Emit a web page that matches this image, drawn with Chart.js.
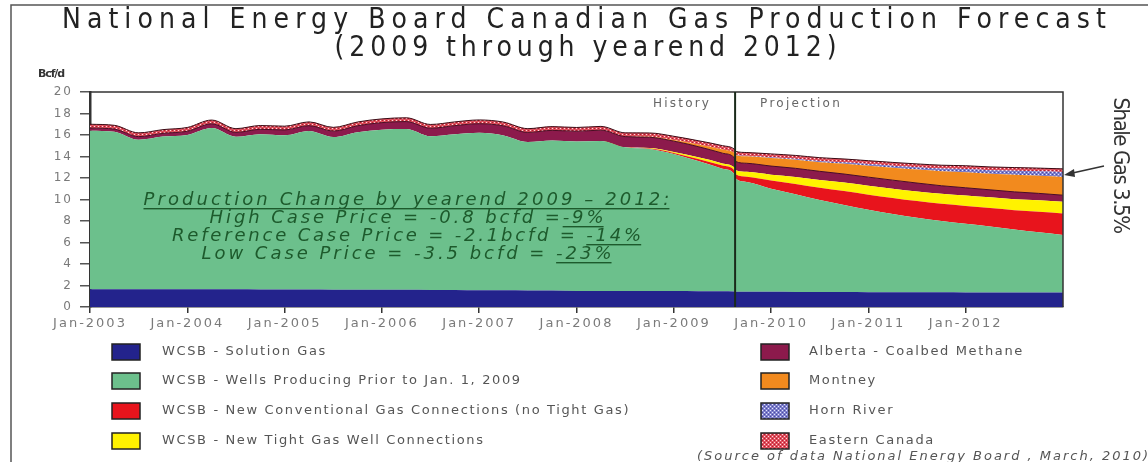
<!DOCTYPE html>
<html><head><meta charset="utf-8">
<script src="https://cdn.jsdelivr.net/npm/chart.js@4"></script>
<style>html,body{margin:0;padding:0;background:#fff;}canvas{display:block;}</style>
</head><body>
<canvas id="c" width="1148" height="462"></canvas>
<script>
// ---------- DATA (Bcf/d) ----------
const years = [2003,2003.25,2003.5,2003.75,2004,2004.25,2004.5,2004.75,2005,2005.25,2005.5,2005.75,
  2006,2006.25,2006.5,2006.75,2007,2007.25,2007.5,2007.75,2008,2008.25,2008.5,2008.75,
  2009,2009.25,2009.5,2009.62,2009.64,2009.75,2010,2010.25,2010.5,2010.75,2011,2011.25,2011.5,2011.75,
  2012,2012.25,2012.5,2012.75,2013];
const solutionGas = [1.65,1.65,1.65,1.65,1.65,1.64,1.64,1.63,1.62,1.62,1.61,1.61,
  1.60,1.60,1.58,1.57,1.55,1.55,1.54,1.53,1.50,1.50,1.50,1.49,
  1.48,1.47,1.46,1.45,1.42,1.42,1.41,1.40,1.40,1.39,1.38,1.38,1.37,1.37,
  1.36,1.36,1.35,1.35,1.35];
const wellsPrior2009 = [14.75,14.65,13.9,14.2,14.35,15.0,14.2,14.45,14.35,14.75,14.2,14.65,
  14.9,14.95,14.3,14.5,14.65,14.4,13.8,13.95,13.9,13.95,13.35,13.2,
  12.75,12.1,11.4,10.95,10.5,10.2,9.6,9.1,8.55,8.1,7.67,7.27,6.93,6.63,
  6.39,6.14,5.85,5.6,5.35];
const newConventional = [0,0,0,0,0,0,0,0,0,0,0,0,
  0,0,0,0,0,0,0,0,0,0,0,0.05,
  0.1,0.2,0.3,0.35,0.4,0.5,0.75,0.95,1.15,1.3,1.4,1.5,1.55,1.6,
  1.65,1.7,1.8,1.9,2.0];
const tightGas = [0,0,0,0,0,0,0,0,0,0,0,0,
  0,0,0,0,0,0,0,0,0,0,0,0.05,
  0.1,0.15,0.2,0.25,0.4,0.45,0.55,0.65,0.72,0.78,0.83,0.85,0.9,0.93,
  0.97,1.0,1.03,1.07,1.1];
const albertaCBM = [0.25,0.25,0.3,0.3,0.35,0.4,0.4,0.45,0.5,0.5,0.55,0.6,
  0.65,0.7,0.75,0.8,0.85,0.9,0.9,0.95,0.95,1.0,1.0,1.0,
  1.0,1.0,0.95,0.9,0.8,0.8,0.8,0.8,0.8,0.8,0.8,0.8,0.78,0.75,
  0.72,0.7,0.68,0.65,0.6];
const montney = [0,0,0,0,0,0,0,0,0,0,0,0,
  0,0,0,0,0,0,0,0,0,0,0,0.05,
  0.1,0.2,0.35,0.45,0.6,0.65,0.75,0.8,0.85,0.95,1.05,1.15,1.25,1.35,
  1.45,1.5,1.6,1.65,1.7];
const hornRiver = [0,0,0,0,0,0,0,0,0,0,0,0,
  0,0,0,0,0,0,0,0,0,0,0,0,
  0,0,0,0,0.05,0.05,0.08,0.1,0.12,0.15,0.18,0.2,0.23,0.26,
  0.3,0.33,0.36,0.4,0.45];
const easternCanada = [0.35,0.35,0.35,0.35,0.35,0.35,0.35,0.35,0.35,0.35,0.35,0.35,
  0.35,0.35,0.35,0.35,0.35,0.35,0.35,0.35,0.35,0.35,0.35,0.35,
  0.35,0.35,0.35,0.35,0.3,0.3,0.3,0.3,0.3,0.3,0.3,0.3,0.3,0.3,
  0.3,0.3,0.3,0.3,0.3];
const seriesNames = ['WCSB - Solution Gas','WCSB - Wells Producing Prior to Jan. 1, 2009',
  'WCSB - New Conventional Gas Connections (no Tight Gas)','WCSB - New Tight Gas Well Connections',
  'Alberta - Coalbed Methane','Montney','Horn River','Eastern Canada'];
const xTickYears = [2003,2004,2005,2006,2007,2008,2009,2010,2011,2012];
const yTicks = [0,2,4,6,8,10,12,14,16,18,20];
const titleLines = ['National Energy Board Canadian Gas Production Forecast','(2009 through yearend 2012)'];
const noteLines = [
  [['Production Change by yearend 2009 \u2013 2012:', true]],
  [['High Case Price = -0.8 bcfd =', false], ['-9%', true]],
  [['Reference Case Price = -2.1bcfd = ', false], ['-14%', true]],
  [['Low Case Price = -3.5 bcfd = ', false], ['-23%', true]]
];
const dividerYear = 2009.63;
const periodLabels = ['History', 'Projection'];
const shaleLabel = 'Shale Gas 3.5%';
const sourceText = '(Source of data National Energy Board , March, 2010)';
const yUnit = 'Bcf/d';

// ---------- STYLE ----------
const canvas = document.getElementById('c');
const ctx0 = canvas.getContext('2d');
function makePattern(bg, dot, dot2) {
  const c = document.createElement('canvas'); c.width = 4; c.height = 4;
  const g = c.getContext('2d');
  g.fillStyle = bg; g.fillRect(0,0,4,4);
  g.fillStyle = dot; g.fillRect(0,0,1,1); g.fillRect(2,2,1,1);
  g.fillStyle = dot2; g.fillRect(2,0,1,1); g.fillRect(0,2,1,1);
  return ctx0.createPattern(c, 'repeat');
}
const hornPat = makePattern('#7e80cc', '#e6e6ff', '#4a4aa0');
const eastPat = makePattern('#e0505e', '#ffd8dc', '#b02030');
const fills = ['#23238c', '#6cc08c', '#e8141c', '#fff200', '#8c1a4c', '#f28a1e', hornPat, eastPat];
const seriesData = [solutionGas, wellsPrior2009, newConventional, tightGas, albertaCBM, montney, hornRiver, easternCanada];
const borders = [null, null, null, null, '#4a0c22', null, null, '#3a0a14'];

const datasets = seriesData.map((arr, i) => ({
  label: seriesNames[i],
  data: arr.map((v, k) => ({x: years[k], y: v})),
  backgroundColor: fills[i],
  borderColor: borders[i] || 'rgba(0,0,0,0)',
  borderWidth: borders[i] ? 1 : 0,
  fill: i === 0 ? 'origin' : '-1',
  pointRadius: 0,
  cubicInterpolationMode: 'monotone'
}));

function spacedText(ctx, segs, x, y, targetW, align) {
  const text = segs.map(s => s[0]).join('');
  ctx.letterSpacing = '0px';
  const w0 = ctx.measureText(text).width;
  const ls = (targetW - w0) / text.length;
  ctx.letterSpacing = ls + 'px';
  let cx = align === 'center' ? x - targetW / 2 : x;
  ctx.textAlign = 'left';
  for (const [t, u] of segs) {
    const w = ctx.measureText(t).width;
    ctx.fillText(t, cx, y);
    if (u) ctx.fillRect(cx, y + 3, w - ls, 1.4);
    cx += w;
  }
  ctx.letterSpacing = '0px';
}

const decor = {
  id: 'decor',
  beforeDraw(chart) {
    const ctx = chart.ctx;
    ctx.save();
    ctx.fillStyle = '#fff'; ctx.fillRect(0, 0, chart.width, chart.height);
    ctx.restore();
    ctx.letterSpacing = '2px';
  },
  beforeDatasetsDraw(chart) { chart.ctx.letterSpacing = '0px'; },
  afterDatasetsDraw(chart) {
    const ctx = chart.ctx, a = chart.chartArea, xs = chart.scales.x;
    ctx.save();
    ctx.strokeStyle = '#333'; ctx.lineWidth = 1.5;
    ctx.beginPath(); ctx.moveTo(a.left, a.top); ctx.lineTo(a.right, a.top); ctx.lineTo(a.right, a.bottom); ctx.stroke();
    const dx = xs.getPixelForValue(dividerYear);
    ctx.strokeStyle = '#1a2a1a'; ctx.lineWidth = 2;
    ctx.beginPath(); ctx.moveTo(dx, a.top); ctx.lineTo(dx, a.bottom); ctx.stroke();
    ctx.fillStyle = '#666'; ctx.font = '12px "DejaVu Sans"'; ctx.textBaseline = 'middle';
    spacedText(ctx, [[periodLabels[0], false]], dx - 82, a.top + 12, 58, 'left');
    spacedText(ctx, [[periodLabels[1], false]], dx + 25, a.top + 12, 82, 'left');
    ctx.fillStyle = '#1d5a2c'; ctx.font = 'italic 18px "DejaVu Sans"'; ctx.textBaseline = 'alphabetic';
    const noteW = [529, 397, 472, 413];
    const noteY = [205, 223, 241, 259];
    noteLines.forEach((segs, i) => spacedText(ctx, segs, 408, noteY[i], noteW[i], 'center'));
    ctx.restore();
  },
  afterDraw(chart) {
    const ctx = chart.ctx;
    ctx.save();
    ctx.strokeStyle = '#555'; ctx.lineWidth = 1.5;
    ctx.beginPath(); ctx.moveTo(11, 462); ctx.lineTo(11, 5); ctx.lineTo(1148, 5); ctx.stroke();
    ctx.fillStyle = '#222'; ctx.textBaseline = 'middle';
    ctx.font = '28px "Liberation Sans Narrow", "DejaVu Sans Condensed", sans-serif';
    spacedText(ctx, [[titleLines[0], false]], 587, 21, 1050, 'center');
    spacedText(ctx, [[titleLines[1], false]], 588, 49, 507, 'center');
    ctx.fillStyle = '#333'; ctx.font = 'bold 11px "DejaVu Sans"';
    spacedText(ctx, [[yUnit, false]], 38, 74, 26, 'left');
    ctx.save();
    ctx.translate(1120, 165);
    ctx.rotate(Math.PI / 2);
    ctx.fillStyle = '#333';
    ctx.font = '22px "Liberation Sans Narrow", "DejaVu Sans Condensed", sans-serif';
    ctx.textBaseline = 'middle';
    spacedText(ctx, [[shaleLabel, false]], 0, 0, 135, 'center');
    ctx.restore();
    ctx.strokeStyle = '#333'; ctx.fillStyle = '#333'; ctx.lineWidth = 1.5;
    ctx.beginPath(); ctx.moveTo(1104, 166); ctx.lineTo(1068, 174); ctx.stroke();
    ctx.beginPath(); ctx.moveTo(1064, 175); ctx.lineTo(1074, 169); ctx.lineTo(1075, 177); ctx.closePath(); ctx.fill();
    const rowY = [352, 381, 411, 441];
    const cols = [{sx: 112, tx: 162}, {sx: 761, tx: 809}];
    ctx.font = '13px "DejaVu Sans"';
    ctx.letterSpacing = '0px';
    const refW = ctx.measureText(seriesNames[0]).width;
    const ls = Math.max(0, (165 - refW) / seriesNames[0].length);
    seriesNames.forEach((name, i) => {
      const col = cols[Math.floor(i / 4)], y = rowY[i % 4];
      ctx.fillStyle = fills[i];
      ctx.fillRect(col.sx, y - 8, 28, 16);
      ctx.strokeStyle = '#222'; ctx.lineWidth = 1.5;
      ctx.strokeRect(col.sx, y - 8, 28, 16);
      ctx.fillStyle = '#555'; ctx.textBaseline = 'middle'; ctx.textAlign = 'left';
      ctx.letterSpacing = ls + 'px';
      ctx.fillText(name, col.tx, y);
      ctx.letterSpacing = '0px';
    });
    ctx.fillStyle = '#555'; ctx.font = 'italic 13px "DejaVu Sans"'; ctx.textBaseline = 'middle';
    spacedText(ctx, [[sourceText, false]], 697, 457, 453, 'left');
    ctx.restore();
  }
};

new Chart(canvas, {
  type: 'line',
  data: { datasets },
  options: {
    responsive: false,
    animation: false,
    events: [],
    layout: { padding: { top: 92, right: 85, bottom: 0, left: 0 } },
    plugins: { legend: { display: false }, tooltip: { enabled: false }, title: { display: false } },
    scales: {
      x: {
        type: 'linear', min: 2003, max: 2013,
        afterBuildTicks: s => { s.ticks = xTickYears.map(v => ({ value: v })); },
        afterFit: s => { s.height = 155; },
        ticks: { callback: v => 'Jan-' + v, color: '#7a7a7a', font: { family: 'DejaVu Sans', size: 13 }, maxRotation: 0, autoSkip: false, padding: 3 },
        grid: { drawOnChartArea: false, drawTicks: true, tickLength: 6, color: '#333', lineWidth: 1.5 },
        border: { display: true, color: '#333', width: 1.5 }
      },
      y: {
        stacked: true, min: 0, max: 20,
        afterBuildTicks: s => { s.ticks = yTicks.map(v => ({ value: v })); },
        afterFit: s => { s.width = 90; },
        ticks: { color: '#7a7a7a', font: { family: 'DejaVu Sans', size: 12 }, padding: 7 },
        grid: { drawOnChartArea: false, drawTicks: true, tickLength: 10, color: '#555', lineWidth: 1.5 },
        border: { display: true, color: '#333', width: 2.5 }
      }
    }
  },
  plugins: [decor]
});
</script>
</body></html>
